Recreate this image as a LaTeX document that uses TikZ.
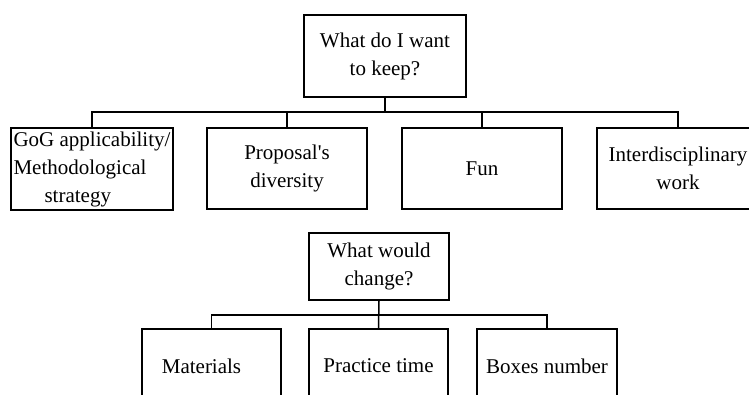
\documentclass[tikz,border=0pt]{standalone}
\usepackage{fontspec}
\setmainfont{Liberation Serif}[Ligatures=TeXOff]
\begin{document}
\begin{tikzpicture}[x=1pt,y=-1pt,
  box/.style={draw, line width=1.5pt, inner sep=2pt, font=\fontsize{21}{28}\selectfont},
  boxml/.style={box, align=center},
  link/.style={line width=1.5pt}]
\useasboundingbox (0,0) rectangle (749,394);
\clip (0,0) rectangle (749,394);
% first tree
\node[boxml, minimum width=162pt, minimum height=82pt] (top) at (385,56) {What do I want\\to keep?};
\node[box, align=left, minimum width=162pt, minimum height=82pt] (c1) at (92,169) {GoG applicability/\\Methodological\\\hspace*{31pt}strategy};
\node[boxml, minimum width=160pt, minimum height=81pt] (c2) at (287,168.5) {Proposal's\\diversity};
\node[boxml, minimum width=160pt, minimum height=81pt] (c3) at (482,168.5) {Fun};
\node[boxml, minimum width=162pt, minimum height=81pt] (c4) at (678,168.5) {Interdisciplinary\\work};
\coordinate (bus1) at (385,112);
\draw[link] (top.south) -- (bus1);
\draw[link] (c1.north) |- (bus1) -| (c4.north);
\draw[link] (c2.north) -- (c2.north |- bus1);
\draw[link] (c3.north) -- (c3.north |- bus1);
% second tree
\node[boxml, minimum width=140pt, minimum height=67pt] (top2) at (379,266.5) {What would\\change?};
\node[box, minimum width=139pt, minimum height=74pt] (d1) at (211.5,366) {Materials\kern20pt};
\node[box, minimum width=139pt, minimum height=74pt] (d2) at (378.5,366) {Practice time};
\node[box, minimum width=140pt, minimum height=74pt] (d3) at (547,366) {Boxes number};
\coordinate (bus2) at (379,315);
\draw[link] (top2.south) -- (d2.north);
\draw[link] (d1.north) |- (bus2) -| (d3.north);
\end{tikzpicture}
\end{document}
